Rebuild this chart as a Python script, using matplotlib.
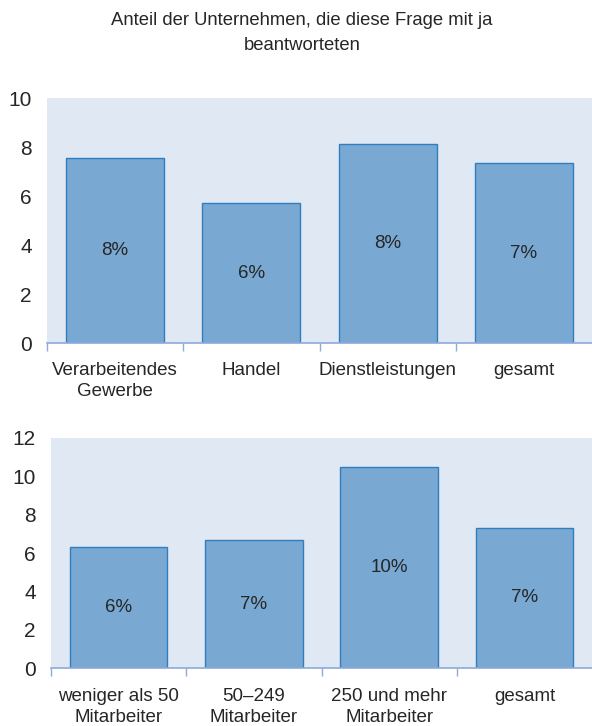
import matplotlib.pyplot as plt
import numpy as np

plt.rcParams['font.family'] = ['Liberation Sans', 'DejaVu Sans']

title = "Anteil der Unternehmen, die diese Frage mit ja\nbeantworteten"

branche_labels = ["Verarbeitendes\nGewerbe", "Handel", "Dienstleistungen", "gesamt"]
branche_values = [7.56, 5.70, 8.11, 7.33]
branche_text = ["8%", "6%", "8%", "7%"]

groesse_labels = ["weniger als 50\nMitarbeiter", "50–249\nMitarbeiter", "250 und mehr\nMitarbeiter", "gesamt"]
groesse_values = [6.30, 6.67, 10.47, 7.33]
groesse_text = ["6%", "7%", "10%", "7%"]

bg = "#E0E8F4"
bar_color = "#79A9D3"
edge_color = "#2F7EC0"
axis_color = "#8EAADB"
text_color = "#262626"

fig = plt.figure(figsize=(5.92, 7.26), dpi=100)
fig.text(0.51, 0.983, title, ha="center", va="top", fontsize=13.3,
         color=text_color, linespacing=1.6)

ax1 = fig.add_axes([0.0794, 0.5275, 0.9206, 0.3375])
ax2 = fig.add_axes([0.0862, 0.0795, 0.9138, 0.3172])


def draw(ax, labels, values, texts, ymax, yticks):
    x = np.arange(len(values))
    ax.set_facecolor(bg)
    ax.bar(x, values, width=0.72, color=bar_color, edgecolor=edge_color,
           linewidth=1.0, zorder=2)
    for xi, v, t in zip(x, values, texts):
        ax.text(xi, v / 2, t, ha="center", va="center", fontsize=13.5,
                color=text_color, zorder=3)
    ax.set_xlim(-0.5, len(values) - 0.5)
    ax.set_ylim(0, ymax)
    ax.set_yticks(yticks)
    ax.set_yticklabels([str(t) for t in yticks])
    ax.set_xticks(x)
    ax.set_xticklabels(labels, linespacing=1.3)
    ax.set_xticks(np.arange(len(values)) - 0.5, minor=True)
    ax.tick_params(axis="x", which="major", length=0, pad=14,
                   labelsize=13.5, labelcolor=text_color)
    ax.tick_params(axis="x", which="minor", length=6, width=1,
                   color=axis_color, direction="out")
    ax.tick_params(axis="y", length=0, pad=11, labelsize=15,
                   labelcolor=text_color)
    for s in ["top", "right", "left"]:
        ax.spines[s].set_visible(False)
    ax.spines["bottom"].set_color(axis_color)
    ax.spines["bottom"].set_linewidth(1.2)


draw(ax1, branche_labels, branche_values, branche_text, 10, [0, 2, 4, 6, 8, 10])
draw(ax2, groesse_labels, groesse_values, groesse_text, 12, [0, 2, 4, 6, 8, 10, 12])

fig.savefig("out.png", dpi=100)
